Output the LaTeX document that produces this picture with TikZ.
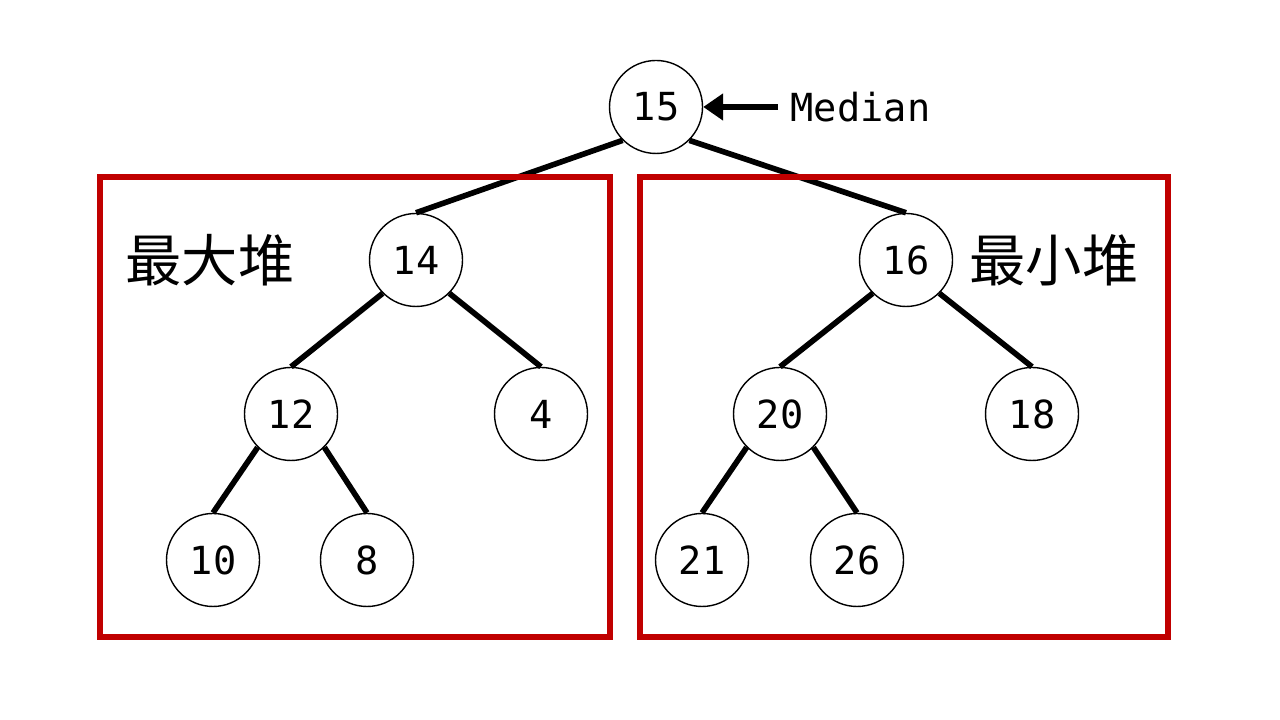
\documentclass[tikz,border=0pt]{standalone}
\usepackage{fontspec}
\newfontfamily\monofont{DejaVu Sans Mono}
\newfontfamily\cjk{Noto Sans CJK SC}
\usepackage{tikz}
\usetikzlibrary{arrows.meta}
\definecolor{heapred}{HTML}{C00000}

\begin{document}
\begin{tikzpicture}[
        key/.style={draw,circle,minimum size=0.93cm,inner sep=0pt,line width=0.4pt,font=\monofont\fontsize{11}{13}\selectfont},
        link/.style={line width=1.6pt},
        heapbox/.style={draw=heapred,line width=1.7pt},
        heaplabel/.style={font=\cjk\fontsize{16}{18}\selectfont}
    ]
        \useasboundingbox (0,0) rectangle (12.8,7.2);

        \node[key] (n15) at (6.56,6.13) {15};
        \node[anchor=west,inner sep=0pt,font=\monofont\fontsize{11}{13}\selectfont] (median) at (7.90,6.13) {Median};
        \coordinate (medianarrow) at (7.78,6.13);
        \draw[line width=1.9pt,-{Triangle[length=0.2cm,width=0.26cm]}] (medianarrow) -- (n15.east);

        % max heap
        \node[key] (n14) at (4.16,4.60) {14};
        \node[key] (n12) at (2.91,3.06) {12};
        \node[key] (n4) at (5.41,3.06) {4};
        \node[key] (n10) at (2.13,1.60) {10};
        \node[key] (n8) at (3.67,1.60) {8};

        % min heap
        \node[key] (n16) at (9.06,4.60) {16};
        \node[key] (n20) at (7.80,3.06) {20};
        \node[key] (n18) at (10.32,3.06) {18};
        \node[key] (n21) at (7.02,1.60) {21};
        \node[key] (n26) at (8.57,1.60) {26};

        \draw[link] (n15.south west) -- (n14.north);
        \draw[link] (n15.south east) -- (n16.north);
        \draw[link] (n14.south west) -- (n12.north);
        \draw[link] (n14.south east) -- (n4.north);
        \draw[link] (n12.south west) -- (n10.north);
        \draw[link] (n12.south east) -- (n8.north);
        \draw[link] (n16.south west) -- (n20.north);
        \draw[link] (n16.south east) -- (n18.north);
        \draw[link] (n20.south west) -- (n21.north);
        \draw[link] (n20.south east) -- (n26.north);

        \draw[heapbox] (1.00,0.83) rectangle (6.10,5.43);
        \draw[heapbox] (6.40,0.83) rectangle (11.68,5.43);
        \node[heaplabel] (maxlabel) at (2.10,4.60) {最大堆};
        \node[heaplabel] (minlabel) at (10.54,4.60) {最小堆};
    \end{tikzpicture}
\end{document}
